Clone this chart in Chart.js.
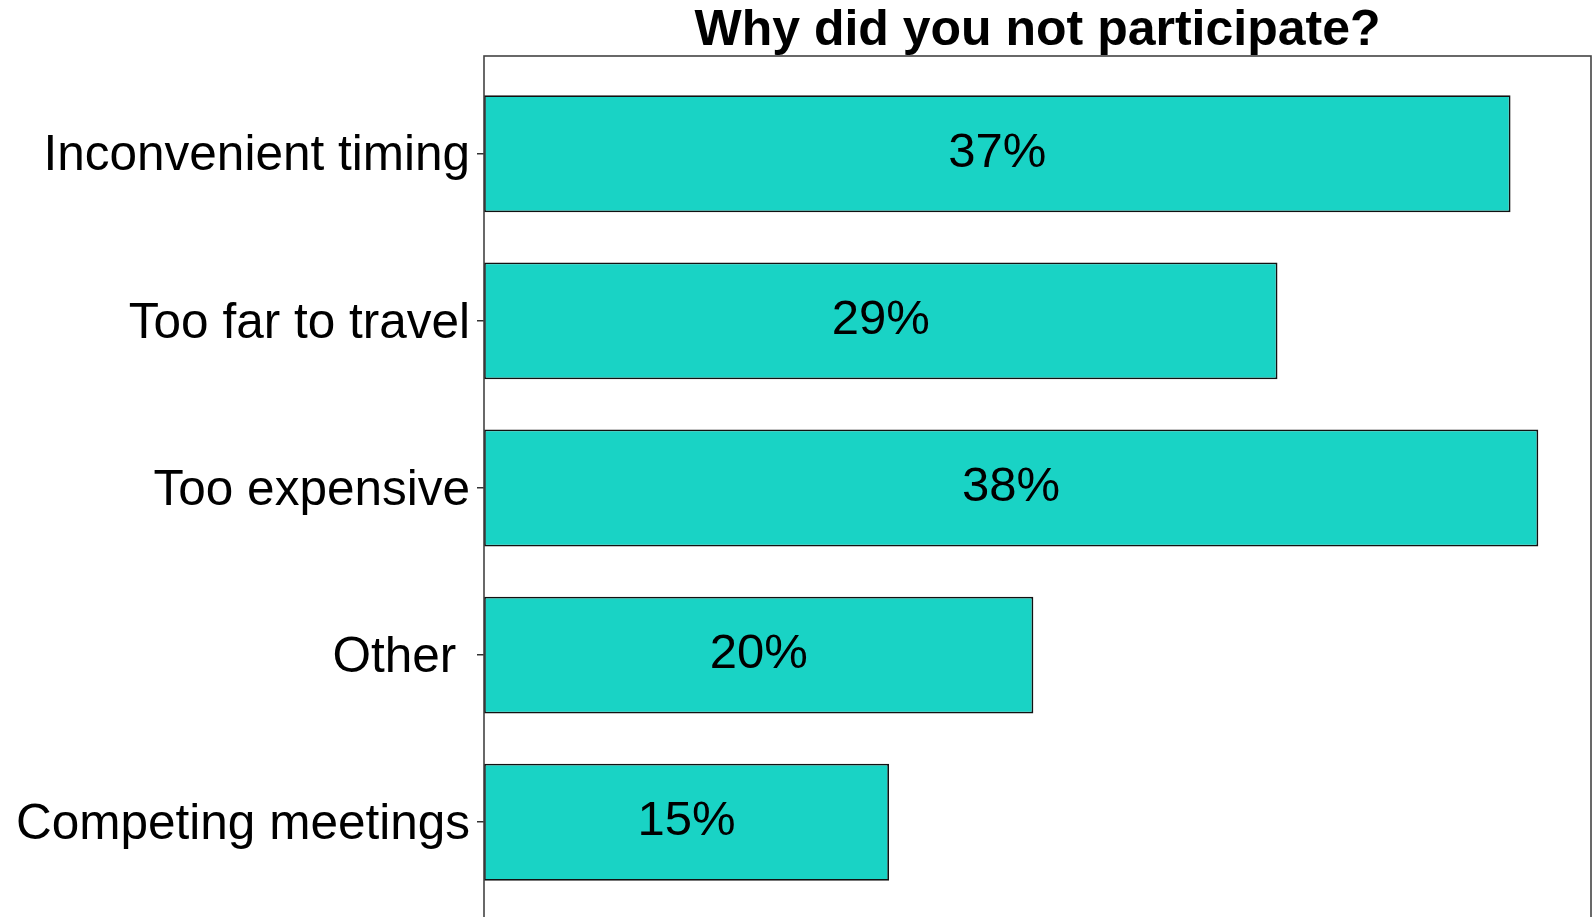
<!DOCTYPE html>
<html>
<head>
<meta charset="utf-8">
<script src="https://cdn.jsdelivr.net/npm/chart.js@4"></script>
<style>
  html, body { margin: 0; padding: 0; background: #fff; overflow: hidden; }
  canvas { display: block; }
</style>
</head>
<body>
<canvas id="c" width="1593" height="925" style="width:1593px;height:925px"></canvas>
<script>
const categories = ["Inconvenient timing", "Too far to travel", "Too expensive", "Other ", "Competing meetings"];
const values = [37.0, 28.6, 38.0, 19.8, 14.6];
const titleText = "Why did you not participate?";
const xMax = 39.9;

const FONT = "'Liberation Sans', Arial, Helvetica, sans-serif";

const points = values.map((v, i) => ({ x: v, y: i }));

const boxPlugin = {
  id: 'box',
  afterDraw(chart) {
    const { ctx, chartArea: a } = chart;
    ctx.save();
    ctx.strokeStyle = '#444';
    ctx.lineWidth = 1.6;
    ctx.strokeRect(a.left, a.top, a.right - a.left, a.bottom - a.top);
    ctx.restore();
  }
};

const labelPlugin = {
  id: 'barLabels',
  afterDatasetsDraw(chart) {
    const { ctx } = chart;
    const meta = chart.getDatasetMeta(0);
    ctx.save();
    ctx.fillStyle = '#000';
    ctx.font = "49px " + FONT;
    ctx.textAlign = 'center';
    ctx.textBaseline = 'middle';
    meta.data.forEach((el, i) => {
      const cx = (el.x + el.base) / 2;
      ctx.fillText(Math.round(values[i]) + '%', cx, el.y - 0.5);
    });
    ctx.restore();
  }
};

new Chart(document.getElementById('c'), {
  type: 'bar',
  data: {
    datasets: [{
      data: points,
      backgroundColor: '#19d3c5',
      borderColor: '#111',
      borderWidth: 1.8,
      borderSkipped: false,
      barPercentage: 0.7,
      categoryPercentage: 1.0
    }]
  },
  options: {
    indexAxis: 'y',
    responsive: false,
    maintainAspectRatio: false,
    devicePixelRatio: 1,
    animation: false,
    layout: { padding: { left: 0, right: 2, top: 0, bottom: 5 } },
    plugins: {
      legend: { display: false },
      tooltip: { enabled: false },
      title: {
        display: true,
        fullSize: false,
        text: titleText,
        color: '#000',
        font: { family: FONT, size: 50, weight: 'bold', lineHeight: 1.0 },
        padding: { top: 6, bottom: 0 }
      }
    },
    scales: {
      x: {
        type: 'linear',
        display: false,
        min: 0,
        max: xMax
      },
      y: {
        type: 'linear',
        reverse: true,
        offset: false,
        bounds: 'data',
        min: -0.585,
        max: categories.length - 1 + 0.585,
        afterBuildTicks(scale) {
          scale.ticks = categories.map((_, i) => ({ value: i }));
        },
        afterFit(scale) {
          scale.width = 484;
          scale.paddingTop = 0;
          scale.paddingBottom = 0;
        },
        border: { display: false },
        grid: {
          offset: false,
          drawOnChartArea: false,
          drawTicks: true,
          tickLength: 7,
          color: '#333',
          lineWidth: 1.5
        },
        ticks: {
          padding: 7,
          labelOffset: 3,
          color: '#000',
          font: { family: FONT, size: 49.5 },
          autoSkip: false,
          callback: (v) => categories[v] !== undefined ? categories[v] : ''
        }
      }
    }
  },
  plugins: [boxPlugin, labelPlugin]
});
</script>
</body>
</html>
